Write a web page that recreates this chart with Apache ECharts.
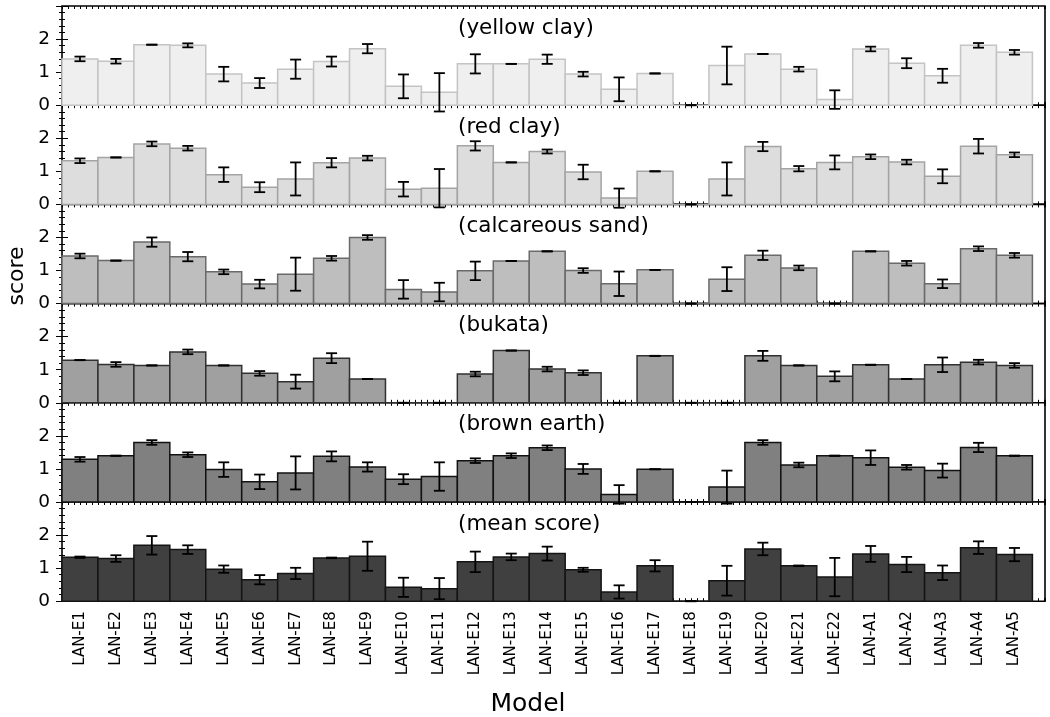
<!DOCTYPE html>
<html>
<head>
<meta charset="utf-8">
<script src="https://cdn.jsdelivr.net/npm/echarts@6/dist/echarts.min.js"></script>
<style>
  html, body { margin: 0; padding: 0; background: #fff; }
  #chart { width: 1050px; height: 717px; }
</style>
</head>
<body>
<div id="chart"></div>
<script>
// Models on the shared x axis
const models = [
  'LAN-E1', 'LAN-E2', 'LAN-E3', 'LAN-E4', 'LAN-E5', 'LAN-E6', 'LAN-E7', 'LAN-E8', 'LAN-E9',
  'LAN-E10', 'LAN-E11', 'LAN-E12', 'LAN-E13', 'LAN-E14', 'LAN-E15', 'LAN-E16', 'LAN-E17',
  'LAN-E18', 'LAN-E19', 'LAN-E20', 'LAN-E21', 'LAN-E22',
  'LAN-A1', 'LAN-A2', 'LAN-A3', 'LAN-A4', 'LAN-A5'
];

// Scores per soil (mean) and half-width of the error bars
const yellowClay = [1.40, 1.33, 1.83, 1.81, 0.94, 0.67, 1.09, 1.32, 1.71, 0.57, 0.39, 1.25, 1.25, 1.39, 0.94, 0.48, 0.96, 0, 1.20, 1.55, 1.09, 0.17, 1.70, 1.27, 0.89, 1.81, 1.60];
const yellowClayErr = [0.07, 0.07, 0, 0.06, 0.22, 0.15, 0.29, 0.15, 0.14, 0.36, 0.58, 0.29, 0, 0.14, 0.07, 0.36, 0, 0, 0.57, 0, 0.07, 0.28, 0.07, 0.15, 0.21, 0.07, 0.07];

const redClay = [1.32, 1.42, 1.83, 1.70, 0.90, 0.52, 0.77, 1.26, 1.40, 0.46, 0.49, 1.77, 1.27, 1.60, 0.98, 0.19, 1.00, 0, 0.77, 1.75, 1.08, 1.27, 1.44, 1.28, 0.85, 1.76, 1.50];
const redClayErr = [0.07, 0, 0.07, 0.07, 0.22, 0.15, 0.50, 0.14, 0.07, 0.22, 0.58, 0.14, 0, 0.06, 0.22, 0.29, 0, 0, 0.50, 0.14, 0.08, 0.21, 0.07, 0.07, 0.21, 0.22, 0.07];

const calcareousSand = [1.44, 1.30, 1.86, 1.42, 0.96, 0.59, 0.89, 1.37, 2.00, 0.43, 0.35, 0.99, 1.29, 1.58, 1.00, 0.60, 1.02, 0, 0.74, 1.46, 1.08, 0, 1.58, 1.22, 0.60, 1.66, 1.46];
const calcareousSandErr = [0.07, 0, 0.14, 0.14, 0.07, 0.13, 0.50, 0.07, 0.07, 0.28, 0.28, 0.28, 0, 0, 0.07, 0.37, 0, 0, 0.36, 0.14, 0.07, 0, 0, 0.07, 0.13, 0.07, 0.07];

const bukata = [1.29, 1.16, 1.13, 1.54, 1.13, 0.89, 0.64, 1.35, 0.72, 0, 0, 0.87, 1.58, 1.02, 0.91, 0, 1.42, 0, 0, 1.42, 1.13, 0.80, 1.15, 0.72, 1.15, 1.23, 1.13];
const bukataErr = [0, 0.07, 0, 0.07, 0, 0.07, 0.21, 0.15, 0, 0, 0, 0.07, 0, 0.07, 0.07, 0, 0, 0, 0, 0.15, 0, 0.15, 0, 0, 0.22, 0.07, 0.07];

const brownEarth = [1.29, 1.40, 1.80, 1.43, 0.98, 0.61, 0.88, 1.38, 1.06, 0.69, 0.77, 1.25, 1.40, 1.64, 1.00, 0.23, 0.99, 0, 0.45, 1.80, 1.12, 1.40, 1.34, 1.05, 0.95, 1.65, 1.40];
const brownEarthErr = [0.07, 0, 0.07, 0.07, 0.22, 0.22, 0.50, 0.15, 0.14, 0.15, 0.43, 0.07, 0.07, 0.07, 0.15, 0.28, 0, 0, 0.50, 0.07, 0.07, 0, 0.22, 0.07, 0.21, 0.14, 0];

const meanScore = [1.33, 1.29, 1.69, 1.56, 0.97, 0.65, 0.84, 1.31, 1.36, 0.42, 0.38, 1.19, 1.34, 1.44, 0.95, 0.28, 1.07, 0, 0.62, 1.58, 1.07, 0.73, 1.43, 1.11, 0.86, 1.62, 1.41];
const meanScoreErr = [0.02, 0.10, 0.28, 0.13, 0.11, 0.14, 0.17, 0.01, 0.44, 0.29, 0.32, 0.31, 0.10, 0.21, 0.06, 0.20, 0.17, 0, 0.45, 0.19, 0.01, 0.58, 0.24, 0.23, 0.22, 0.19, 0.20];

const panelTitles = ['(yellow clay)', '(red clay)', '(calcareous sand)', '(bukata)', '(brown earth)', '(mean score)'];
const yTickLabels = [0, 1, 2];

const panels = [
  { title: panelTitles[0], values: yellowClay, errors: yellowClayErr, fill: '#efefef', edge: '#c4c4c4' },
  { title: panelTitles[1], values: redClay, errors: redClayErr, fill: '#dddddd', edge: '#a4a4a4' },
  { title: panelTitles[2], values: calcareousSand, errors: calcareousSandErr, fill: '#bebebe', edge: '#6a6a6a' },
  { title: panelTitles[3], values: bukata, errors: bukataErr, fill: '#a0a0a0', edge: '#303030' },
  { title: panelTitles[4], values: brownEarth, errors: brownEarthErr, fill: '#808080', edge: '#121212' },
  { title: panelTitles[5], values: meanScore, errors: meanScoreErr, fill: '#404040', edge: '#141414' }
];

// layout of the stacked panels
const LEFT = 62, RIGHT = 5, TOP = 6, PANEL_H = 99.2;
const X_MAX = 27.35;
const FONT = 'DejaVu Sans';

function barItem(fill, edge) {
  return function (params, api) {
    const i = api.value(0), v = api.value(1);
    const a = api.coord([i, 0]);
    const b = api.coord([i + 1, v]);
    return {
      type: 'rect',
      shape: { x: a[0], y: b[1], width: b[0] - a[0], height: a[1] - b[1] },
      style: { fill: fill, stroke: edge, lineWidth: 1.5 }
    };
  };
}

function errItem(params, api) {
  const i = api.value(0), v = api.value(1), e = api.value(2);
  const hi = api.coord([i + 0.5, v + e]);
  const lo = api.coord([i + 0.5, v - e]);
  const w = 5.5;
  const st = { stroke: '#000', lineWidth: 1.8 };
  return {
    type: 'group',
    children: [
      { type: 'line', shape: { x1: hi[0], y1: hi[1], x2: lo[0], y2: lo[1] }, style: st },
      { type: 'line', shape: { x1: hi[0] - w, y1: hi[1], x2: hi[0] + w, y2: hi[1] }, style: st },
      { type: 'line', shape: { x1: lo[0] - w, y1: lo[1], x2: lo[0] + w, y2: lo[1] }, style: st }
    ]
  };
}

const centers = models.map((m, i) => i + 0.5);

const grid = [], xAxis = [], yAxis = [], series = [], title = [];

panels.forEach((p, k) => {
  const top = TOP + k * PANEL_H;
  const last = k === panels.length - 1;
  grid.push({
    left: LEFT, right: RIGHT, top: top, height: PANEL_H,
    show: true, borderColor: '#000', borderWidth: 1.6, backgroundColor: '#fff'
  });
  // labelled axis along the bottom edge
  xAxis.push({
    type: 'value', gridIndex: k, min: 0, max: X_MAX, position: 'bottom',
    axisLine: { show: false },
    splitLine: { show: false },
    axisTick: { show: false },
    axisLabel: last ? {
      show: true,
      customValues: centers,
      rotate: 90,
      margin: 10,
      fontFamily: FONT,
      fontSize: 15,
      color: '#000',
      formatter: v => models[Math.round(v - 0.5)]
    } : { show: false }
  });
  // small inward ticks on the bottom and top edges
  ['bottom', 'top'].forEach(pos => {
    xAxis.push({
      type: 'value', gridIndex: k, min: 0, max: X_MAX, interval: 1 / 6, position: pos,
      axisLine: { show: false },
      splitLine: { show: false },
      axisLabel: { show: false },
      axisTick: { show: true, inside: true, length: 3, lineStyle: { color: '#000', width: 1 } }
    });
  });
  const yCommon = {
    type: 'value', gridIndex: k, min: 0, max: 3, interval: 1,
    axisLine: { show: false },
    splitLine: { show: false },
    axisTick: { show: true, inside: true, length: 6, lineStyle: { color: '#000', width: 1 } },
    minorTick: { show: true, splitNumber: 5, length: 3, lineStyle: { color: '#000', width: 1 } }
  };
  yAxis.push(Object.assign({}, yCommon, {
    position: 'left',
    axisLabel: {
      show: true, customValues: yTickLabels, margin: 12,
      fontFamily: FONT, fontSize: 18.5, color: '#000'
    }
  }));
  yAxis.push(Object.assign({}, yCommon, {
    position: 'right',
    axisLabel: { show: false }
  }));
  const xIdx = k * 3, yIdx = k * 2;
  series.push({
    type: 'custom',
    xAxisIndex: xIdx, yAxisIndex: yIdx,
    renderItem: barItem(p.fill, p.edge),
    data: p.values.map((v, i) => [i, v]),
    z: 2
  });
  series.push({
    type: 'custom',
    xAxisIndex: xIdx, yAxisIndex: yIdx,
    renderItem: errItem,
    data: p.values.map((v, i) => [i, v, p.errors[i]]),
    z: 3
  });
  title.push({
    text: p.title,
    left: 458, top: top + 11,
    padding: 0,
    textStyle: { fontFamily: FONT, fontSize: 21.5, fontWeight: 'normal', color: '#000' }
  });
});

const chart = echarts.init(document.getElementById('chart'), null, { renderer: 'canvas' });
chart.setOption({
  backgroundColor: '#fff',
  animation: false,
  title: title,
  grid: grid,
  xAxis: xAxis,
  yAxis: yAxis,
  series: series,
  graphic: [
    {
      type: 'text', x: 17, y: 276, rotation: Math.PI / 2,
      style: { text: 'score', fontFamily: FONT, fontSize: 22, fill: '#000', align: 'center', verticalAlign: 'middle' }
    },
    {
      type: 'text', x: 528, y: 704,
      style: { text: 'Model', fontFamily: FONT, fontSize: 25, fill: '#000', align: 'center', verticalAlign: 'middle' }
    }
  ]
});
</script>
</body>
</html>
